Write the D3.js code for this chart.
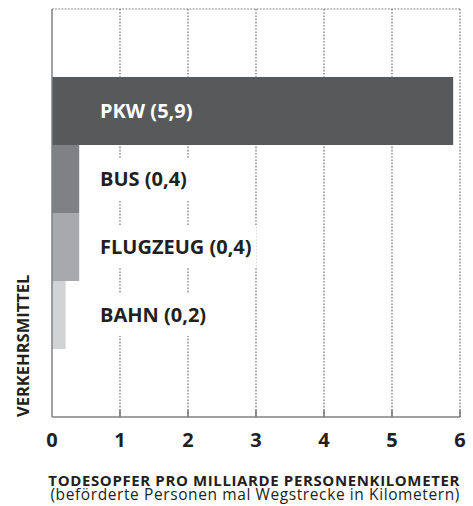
<!DOCTYPE html>
<meta charset="utf-8">
<head>
    <title>Todesopfer pro Milliarde Personenkilometer</title>
    <style>
        body { margin: 0; background: #fff; }
        text { font-family: "Open Sans", sans-serif; }
    </style>
</head>
<body>
<svg width="473" height="506"></svg>
<script src="https://d3js.org/d3.v7.min.js"></script>
<script>

    //chart data
    var modes = ["PKW", "BUS", "FLUGZEUG", "BAHN"];
    var values = [5.9, 0.4, 0.4, 0.2];
    var valueLabels = ["5,9", "0,4", "0,4", "0,2"];
    var ticks = [0, 1, 2, 3, 4, 5, 6];
    var xTitle = "TODESOPFER PRO MILLIARDE PERSONENKILOMETER";
    var xSubtitle = "(beförderte Personen mal Wegstrecke in Kilometern)";
    var yTitle = "VERKEHRSMITTEL";

    var barColors = ["#58595b", "#808184", "#a7a9ac", "#d1d3d4"];

    //plot area (window.top is reserved, so keep these in an object)
    var svg = d3.select("svg"),
        plot = { left: 52, right: 460, top: 9, bottom: 417 };

    var x = d3.scaleLinear().domain([0, 6]).range([plot.left, plot.right]);
    var y = d3.scaleBand().domain(modes).range([plot.top, plot.bottom])
        .paddingInner(0).paddingOuter(1);

    var rows = modes.map(function(m, i) {
        return { mode: m, value: values[i], label: m + " (" + valueLabels[i] + ")", color: barColors[i] };
    });

    //dotted grid lines
    var grid = svg.append("g");
    grid.selectAll("line.v")
        .data(ticks.slice(1))
        .enter().append("line")
        .attr("x1", function(d) { return x(d); })
        .attr("x2", function(d) { return x(d); })
        .attr("y1", plot.top)
        .attr("y2", plot.bottom)
        .attr("stroke", "#6d6e71")
        .attr("stroke-width", 1.2)
        .attr("stroke-dasharray", "1.6,1.6");
    grid.append("line")
        .attr("x1", plot.left).attr("x2", plot.right)
        .attr("y1", plot.top).attr("y2", plot.top)
        .attr("stroke", "#6d6e71")
        .attr("stroke-width", 1.2)
        .attr("stroke-dasharray", "1.6,1.6");

    //small ticks at the bottom
    grid.selectAll("line.t")
        .data(ticks.slice(1))
        .enter().append("line")
        .attr("x1", function(d) { return x(d); })
        .attr("x2", function(d) { return x(d); })
        .attr("y1", plot.bottom - 7)
        .attr("y2", plot.bottom)
        .attr("stroke", "#58595b")
        .attr("stroke-width", 1.2);

    //bars
    svg.append("g").selectAll("rect")
        .data(rows)
        .enter().append("rect")
        .attr("x", x(0))
        .attr("y", function(d) { return y(d.mode); })
        .attr("width", function(d) { return x(d.value) - x(0); })
        .attr("height", y.bandwidth())
        .attr("fill", function(d) { return d.color; });

    //labels with white backing where they sit over the grid
    var lab = svg.append("g").selectAll("g")
        .data(rows)
        .enter().append("g");

    lab.append("text")
        .attr("x", 100)
        .attr("y", function(d) { return y(d.mode) + y.bandwidth() / 2 + 6.5; })
        .attr("font-size", 20)
        .attr("font-weight", 700)
        .attr("fill", function(d) { return d.value > 1 ? "#ffffff" : "#231f20"; })
        .text(function(d) { return d.label; });

    lab.each(function(d) {
        if (d.value > 1) return;
        var g = d3.select(this);
        var w = g.select("text").node().getComputedTextLength();
        g.insert("rect", "text")
            .attr("x", 95)
            .attr("y", y(d.mode) + y.bandwidth() / 2 - 21)
            .attr("width", w + 10)
            .attr("height", 42)
            .attr("fill", "#ffffff");
    });

    //axis lines
    svg.append("line")
        .attr("x1", plot.left).attr("x2", plot.left)
        .attr("y1", plot.top).attr("y2", plot.bottom)
        .attr("stroke", "#808184").attr("stroke-width", 1.5);
    svg.append("line")
        .attr("x1", plot.left).attr("x2", plot.right)
        .attr("y1", plot.bottom).attr("y2", plot.bottom)
        .attr("stroke", "#808184").attr("stroke-width", 1.5);

    //tick labels
    svg.append("g").selectAll("text")
        .data(ticks)
        .enter().append("text")
        .attr("x", function(d) { return x(d); })
        .attr("y", 447)
        .attr("text-anchor", "middle")
        .attr("font-size", 20)
        .attr("font-weight", 700)
        .attr("fill", "#231f20")
        .text(function(d) { return d; });

    //axis titles
    svg.append("text")
        .attr("x", plot.right)
        .attr("y", 486)
        .attr("text-anchor", "end")
        .attr("font-size", 15)
        .attr("letter-spacing", 0.62)
        .attr("font-weight", 700)
        .attr("fill", "#231f20")
        .text(xTitle);
    svg.append("text")
        .attr("x", plot.right)
        .attr("y", 500)
        .attr("text-anchor", "end")
        .attr("font-size", 15.5)
        .attr("letter-spacing", 0.6)
        .attr("fill", "#231f20")
        .text(xSubtitle);

    svg.append("text")
        .attr("transform", "translate(29," + plot.bottom + ") rotate(-90)")
        .attr("font-size", 16.5)
        .attr("font-weight", 700)
        .attr("fill", "#231f20")
        .text(yTitle);
</script>
</body>
